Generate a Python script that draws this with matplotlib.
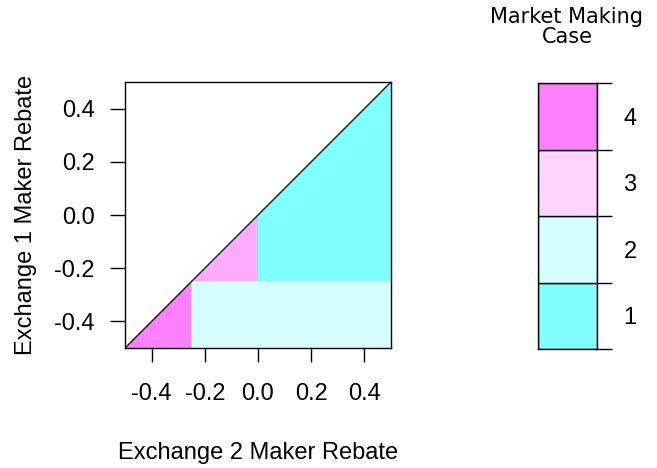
import numpy as np
import matplotlib
matplotlib.use("Agg")
import matplotlib.pyplot as plt

plt.rcParams['font.family'] = ['Liberation Sans', 'DejaVu Sans']

# region boundaries (rebates)
lim = [-0.5, 0.5]
x_cut = [-0.25, 0.0]
y_cut = -0.25

cases = [1, 2, 3, 4]
plot_colors = {1: '#80FFFF', 2: '#D5FFFF', 3: '#FFAAFF', 4: '#FF80FF'}
legend_colors = ['#80FFFF', '#D5FFFF', '#FFD5FF', '#FF80FF']
ticks = [-0.4, -0.2, 0.0, 0.2, 0.4]

lo, hi = lim
# polygons of each case below the diagonal
regions = {
    4: [(lo, lo), (x_cut[0], x_cut[0]), (x_cut[0], lo)],
    3: [(x_cut[0], y_cut), (x_cut[1], x_cut[1]), (x_cut[1], y_cut)],
    1: [(x_cut[1], y_cut), (x_cut[1], x_cut[1]), (hi, hi), (hi, y_cut)],
    2: [(x_cut[0], lo), (x_cut[0], y_cut), (hi, y_cut), (hi, lo)],
}

fs = 17
fig = plt.figure(figsize=(6.57, 4.68), dpi=100)
ax = fig.add_axes([125/657, 1-348/468, 266/657, 266/468])
for c, pts in regions.items():
    ax.add_patch(plt.Polygon(pts, closed=True, facecolor=plot_colors[c], edgecolor='none'))
ax.plot(lim, lim, color='black', lw=1)
ax.set_xlim(lim)
ax.set_ylim(lim)
ax.set_xticks(ticks)
ax.set_yticks(ticks)
ax.set_xticklabels(['%.1f' % t for t in ticks])
ax.set_yticklabels(['%.1f' % t for t in ticks])
ax.tick_params(axis='x', length=10, width=1, pad=15, labelsize=fs)
ax.tick_params(axis='y', length=11, width=1, pad=11, labelsize=fs)
for s in ax.spines.values():
    s.set_linewidth(1)
ax.set_xlabel('Exchange 2 Maker Rebate', fontsize=fs, labelpad=27)
ax.set_ylabel('Exchange 1 Maker Rebate', fontsize=fs, labelpad=12)

# legend key
ax2 = fig.add_axes([538/657, 1-349/468, 59/657, 266/468])
levels = np.arange(0.5, 5.0, 1.0)
for i, c in enumerate(cases):
    ax2.bar(0.5, 1, width=1, bottom=levels[i], color=legend_colors[i], edgecolor='black', lw=1)
ax2.set_xlim(0, 1)
ax2.set_ylim(levels[0], levels[-1])
ax2.set_xticks([])
ax2.yaxis.tick_right()
ax2.set_yticks(levels)
ax2.set_yticklabels([])
ax2.set_yticks(cases, minor=True)
ax2.set_yticklabels([str(c) for c in cases], minor=True)
ax2.tick_params(axis='y', which='major', length=11, width=1)
ax2.tick_params(axis='y', which='minor', length=0, pad=19, labelsize=fs)
for s in ax2.spines.values():
    s.set_linewidth(1)
fig.text(567/657, 1-27/468, 'Market Making\nCase', ha='center', va='center',
         fontsize=15, family='DejaVu Sans', linespacing=1.05)

fig.savefig('out.png', dpi=100)
